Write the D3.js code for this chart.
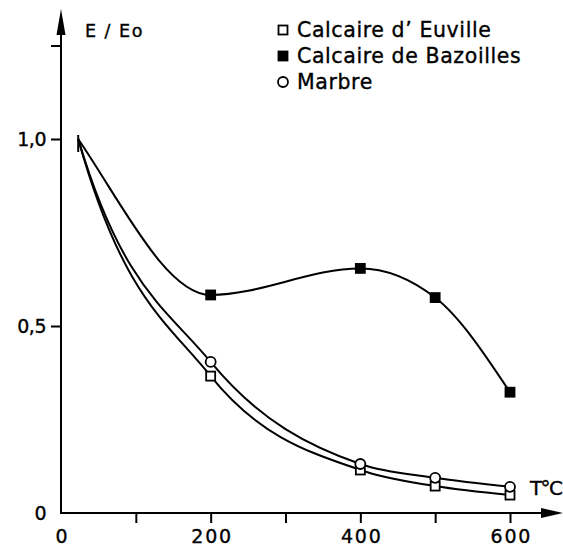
<!DOCTYPE html>
<html>
<head>
<meta charset="utf-8">
<script src="https://cdn.jsdelivr.net/npm/d3@7"></script>
<style>
  body { margin: 0; background: #fff; }
  svg { display: block; font-family: "DejaVu Sans", "Liberation Sans", Arial, sans-serif; }
  svg text { stroke: #000; stroke-width: 0.35px; }
</style>
</head>
<body>
<script>
// températures (°C) et rapports E/Eo
const temperatures = [23, 200, 400, 500, 600];
const euville = [1.0, 0.366, 0.115, 0.072, 0.048];
const bazoilles = [1.0, 0.583, 0.654, 0.576, 0.323];
const marbre = [1.0, 0.404, 0.131, 0.094, 0.07];

const seriesNames = ["Calcaire d\u2019 Euville", "Calcaire de Bazoilles", "Marbre"];
const seriesSymbols = ["square", "filled", "circle"];

const xTicks = [0, 100, 200, 300, 400, 500, 600];
const xLabels = ["0", "", "200", "", "400", "", "600"];
const yTicks = [0, 0.5, 1.0, 1.25];
const yLabels = ["0", "0,5", "1,0", ""];

// forme du tracé à la main : pente de départ = k * pente de la première corde
const startSteepness = [2.0, 1.25, 2.0];

const width = 563, height = 550;

const svg = d3.select("body").append("svg")
  .attr("width", width)
  .attr("height", height);

const x = d3.scaleLinear().domain([0, 600]).range([61, 510]);
const y = d3.scaleLinear().domain([0, 1]).range([513, 139]);

// courbe de Hermite : tangentes monotones (comme curveMonotoneX) sauf au départ
function curveHermiteStart(k) {
  return function(context) {
    let xs, ys;
    return {
      areaStart() {}, areaEnd() {},
      lineStart() { xs = []; ys = []; },
      point(px, py) { xs.push(+px); ys.push(+py); },
      lineEnd() {
        const n = xs.length;
        if (n < 2) return;
        const s = [], t = new Array(n);
        for (let i = 0; i < n - 1; i++) s.push((ys[i + 1] - ys[i]) / (xs[i + 1] - xs[i]));
        for (let i = 1; i < n - 1; i++) {
          const h0 = xs[i] - xs[i - 1], h1 = xs[i + 1] - xs[i];
          const p = (s[i - 1] * h1 + s[i] * h0) / (h0 + h1);
          t[i] = (Math.sign(s[i - 1]) + Math.sign(s[i])) *
            Math.min(Math.abs(s[i - 1]), Math.abs(s[i]), 0.5 * Math.abs(p)) || 0;
        }
        t[0] = k * s[0];
        t[n - 1] = n > 2 ? (3 * s[n - 2] - t[n - 2]) / 2 : s[0];
        context.moveTo(xs[0], ys[0]);
        for (let i = 0; i < n - 1; i++) {
          const dx = (xs[i + 1] - xs[i]) / 3;
          context.bezierCurveTo(xs[i] + dx, ys[i] + dx * t[i],
            xs[i + 1] - dx, ys[i + 1] - dx * t[i + 1], xs[i + 1], ys[i + 1]);
        }
      }
    };
  };
}

// axes
const xAxis = d3.axisBottom(x)
  .tickValues(xTicks)
  .tickSize(10)
  .tickPadding(7)
  .tickFormat((d, i) => xLabels[i]);

const yAxis = d3.axisLeft(y)
  .tickValues(yTicks)
  .tickSize(10)
  .tickPadding(5)
  .tickFormat((d, i) => yLabels[i]);

const gx = svg.append("g")
  .attr("transform", `translate(0,${y(0)})`)
  .call(xAxis);
gx.select(".domain").remove();
gx.selectAll(".tick").filter(d => d === 0).select("line").remove();
gx.selectAll("line").attr("stroke-width", 2);
gx.selectAll("text")
  .attr("font-size", 19)
  .attr("letter-spacing", 1.8)
  .attr("dx", 0.9)
  .attr("fill", "#000")
  .attr("font-family", "DejaVu Sans, sans-serif");

const gy = svg.append("g")
  .attr("transform", `translate(${x(0)},0)`)
  .call(yAxis);
gy.select(".domain").remove();
gy.selectAll(".tick").filter(d => d === 0).select("line").remove();
gy.selectAll("line").attr("stroke-width", 2);
gy.selectAll("text")
  .attr("font-size", 19)
  .attr("letter-spacing", -0.5)
  .attr("fill", "#000")
  .attr("font-family", "DejaVu Sans, sans-serif");

// lignes d'axes avec flèches
svg.append("line")
  .attr("x1", x(0)).attr("y1", y(0))
  .attr("x2", x(0)).attr("y2", 30)
  .attr("stroke", "#000").attr("stroke-width", 2);
svg.append("path")
  .attr("d", `M${x(0)},9 L${x(0) - 4.5},35 L${x(0) + 4.5},35 Z`)
  .attr("fill", "#000");

svg.append("line")
  .attr("x1", x(0) - 1).attr("y1", y(0))
  .attr("x2", 548).attr("y2", y(0))
  .attr("stroke", "#000").attr("stroke-width", 2);
svg.append("path")
  .attr("d", `M563,${y(0)} L541,${y(0) - 5} L541,${y(0) + 5} Z`)
  .attr("fill", "#000");

// titres d'axes
svg.append("text")
  .attr("x", 85).attr("y", 37)
  .attr("font-size", 17.5)
  .attr("letter-spacing", 1.5)
  .text("E / Eo");

svg.append("text")
  .attr("x", 530).attr("y", 495)
  .attr("font-size", 20)
  .attr("letter-spacing", -1.6)
  .text("T°C");

// courbes
const curves = [euville, bazoilles, marbre];

svg.append("g")
  .attr("fill", "none")
  .attr("stroke", "#000")
  .attr("stroke-width", 2)
  .selectAll("path")
  .data(curves)
  .join("path")
  .attr("d", (vals, s) => d3.line()
    .x((d, i) => x(temperatures[i]))
    .y(d => y(d))
    .curve(curveHermiteStart(startSteepness[s]))(vals));

// petit trait au point de départ commun
svg.append("line")
  .attr("x1", x(temperatures[0])).attr("y1", y(1.0) - 4)
  .attr("x2", x(temperatures[0])).attr("y2", y(1.0) + 13)
  .attr("stroke", "#000").attr("stroke-width", 2);

// symboles (sans le point de départ)
function drawSymbol(g, kind, cx, cy) {
  if (kind === "circle") {
    g.append("circle")
      .attr("cx", cx).attr("cy", cy).attr("r", 5)
      .attr("fill", "#fff").attr("stroke", "#000").attr("stroke-width", 1.8);
  } else {
    g.append("rect")
      .attr("x", cx - 4.5).attr("y", cy - 4.5)
      .attr("width", 9).attr("height", 9)
      .attr("fill", kind === "filled" ? "#000" : "#fff")
      .attr("stroke", "#000").attr("stroke-width", 1.8);
  }
}

const marks = svg.append("g");
curves.forEach((vals, s) => {
  vals.forEach((v, i) => {
    if (i === 0) return;
    drawSymbol(marks, seriesSymbols[s], x(temperatures[i]), y(v));
  });
});

// légende
const legend = svg.append("g");
seriesNames.forEach((name, i) => {
  const by = 37 + i * 26;
  drawSymbol(legend, seriesSymbols[i], 283, by - 7);
  legend.append("text")
    .attr("x", 297).attr("y", by)
    .attr("font-size", 20.5)
    .attr("letter-spacing", 0.6)
    .text(name);
});
</script>
</body>
</html>
